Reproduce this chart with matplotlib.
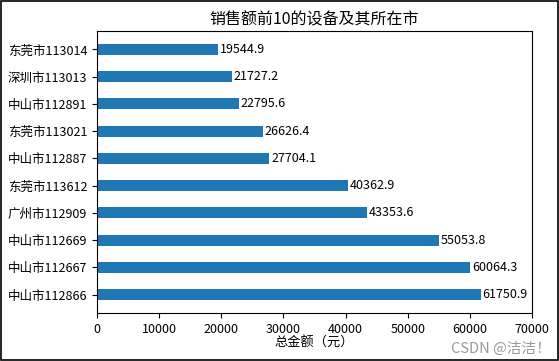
import matplotlib.pyplot as plt
from matplotlib.patches import Rectangle

plt.rcParams['font.family'] = ['Noto Sans CJK SC', 'DejaVu Sans']
plt.rcParams['axes.unicode_minus'] = False

# 从下到上（金额从大到小）
devices = ['中山市112866', '中山市112667', '中山市112669', '广州市112909', '东莞市113612',
           '中山市112887', '东莞市113021', '中山市112891', '深圳市113013', '东莞市113014']
totals = [61750.9, 60064.3, 55053.8, 43353.6, 40362.9,
          27704.1, 26626.4, 22795.6, 21727.2, 19544.9]

fig = plt.figure(figsize=(5.59, 3.61), dpi=100)
ax = fig.add_axes([0.1735, 0.133, 0.7785, 0.781])

y = range(len(devices))
ax.barh(y, totals, height=0.4, color='#1f77b4')
ax.set_yticks(list(y))
ax.set_yticklabels(devices, fontsize=9)
ax.tick_params(axis='x', labelsize=9)
for i, v in zip(y, totals):
    ax.text(v + 300, i, str(v), va='center', fontsize=9)

ax.set_xlim(0, 70000)
ax.set_title('销售额前10的设备及其所在市', fontsize=11.5, pad=5)
ax.set_xlabel('总金额（元）', labelpad=1, fontsize=9.5)

fig.text(0.985, 0.035, 'CSDN @洁洁！', ha='right', va='center', color='#999999', fontsize=10.5)

# 外框
fig.patches.append(Rectangle((0.001, 0.002), 0.997, 0.996, transform=fig.transFigure,
                             fill=False, edgecolor='black', linewidth=1.2))

fig.savefig('out.png', dpi=100)
